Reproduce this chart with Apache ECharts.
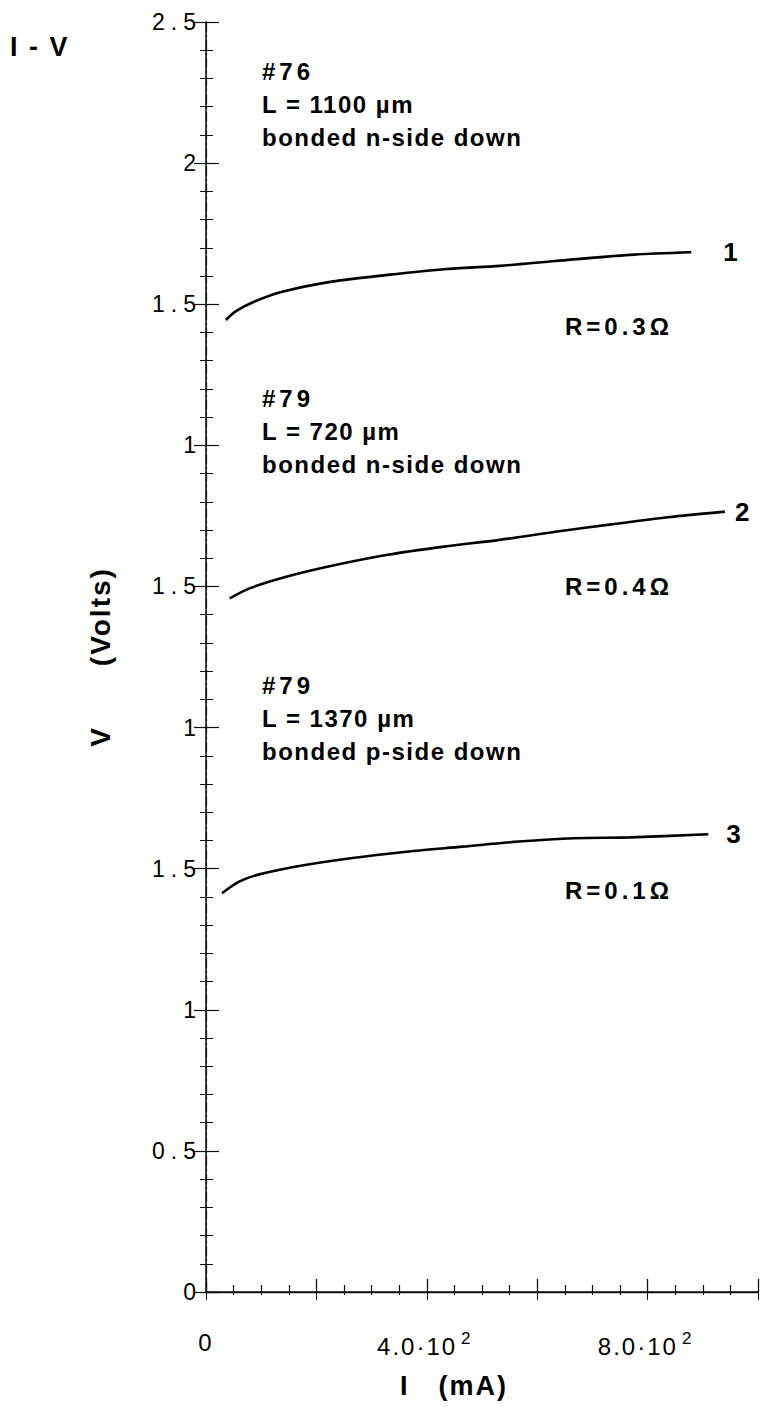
<!DOCTYPE html>
<html>
<head>
<meta charset="utf-8">
<script src="https://cdn.jsdelivr.net/npm/echarts@6/dist/echarts.min.js"></script>
<style>
  html, body { margin: 0; padding: 0; background: #fff; }
  #chart { width: 765px; height: 1407px; }
</style>
</head>
<body>
<div id="chart"></div>
<script>
// Forward I–V curves of three bonded laser diodes (current in mA, voltage in V)
const curve1I = [36, 53, 87, 140, 228, 329, 431, 532, 633, 768, 879];
const curve1V = [1.444, 1.474, 1.509, 1.545, 1.580, 1.604, 1.624, 1.636, 1.653, 1.675, 1.684];

const curve2I = [43, 80, 147, 228, 329, 431, 532, 633, 734, 836, 940];
const curve2V = [1.458, 1.494, 1.535, 1.573, 1.612, 1.641, 1.665, 1.694, 1.720, 1.745, 1.765];

const curve3I = [29, 60, 93, 161, 262, 363, 465, 566, 667, 768, 910];
const curve3V = [1.413, 1.454, 1.478, 1.507, 1.537, 1.560, 1.578, 1.596, 1.608, 1.611, 1.622];

// each curve is shifted up by a whole number of volts so the three traces stack
const curveOffsets = [2, 1, 0];
const curveNames = ['1', '2', '3'];

// labels printed along the stacked voltage axis, bottom to top (every 0.5)
const yTickLabels = ['0', '0.5', '1', '1.5', '1', '1.5', '1', '1.5', '2', '2.5'];

// labelled current ticks and their mantissas (×10²)
const xTickValues = [0, 400, 800];
const xTickText = ['0', '4.0·10', '8.0·10'];

// sample descriptions and series resistances
const sampleNotes = [
  ['#76', 'L = 1100 µm', 'bonded n-side down'],
  ['#79', 'L = 720 µm', 'bonded n-side down'],
  ['#79', 'L = 1370 µm', 'bonded p-side down']
];
const resistances = ['R=0.3Ω', 'R=0.4Ω', 'R=0.1Ω'];

const FONT = '"Liberation Sans", Arial, Helvetica, sans-serif';
const chart = echarts.init(document.getElementById('chart'), null, { renderer: 'svg' });

const toPairs = (I, V, off) => I.map((x, i) => [x, V[i] + off]);
const curves = [
  toPairs(curve1I, curve1V, curveOffsets[0]),
  toPairs(curve2I, curve2V, curveOffsets[1]),
  toPairs(curve3I, curve3V, curveOffsets[2])
];
const endGaps = [32, 10, 18];

const noteTop = [71, 398, 685];
const noteStep = 33;
const rY = [326, 586, 890];

const graphics = [];
graphics.push({
  type: 'text', x: 10, y: 47,
  style: { text: 'I - V', font: 'bold 27px ' + FONT, fill: '#000', verticalAlign: 'middle' }
});
sampleNotes.forEach((lines, k) => {
  lines.forEach((t, j) => {
    graphics.push({
      type: 'text', x: 262, y: noteTop[k] + j * noteStep,
      style: { text: t, font: 'bold 24px ' + FONT, fill: '#000', verticalAlign: 'middle' }
    });
  });
  graphics.push({
    type: 'text', x: 565, y: rY[k],
    style: { text: resistances[k], font: 'bold 24px ' + FONT, fill: '#000', verticalAlign: 'middle' }
  });
});

const axisColor = '#111';
const option = {
  animation: false,
  backgroundColor: '#fff',
  grid: { left: 206, right: 7, top: 22, bottom: 115 },
  xAxis: [
    {
      type: 'value', position: 'bottom', min: 0, max: 1000, interval: 200,
      axisLine: { lineStyle: { color: axisColor, width: 1.5 } },
      axisTick: { inside: true, length: 13, lineStyle: { color: axisColor, width: 1.3 } },
      minorTick: { show: true, splitNumber: 4, length: 7, lineStyle: { color: axisColor, width: 1.2 } },
      splitLine: { show: false },
      axisLabel: {
        margin: 38,
        color: '#000',
        fontFamily: FONT,
        fontSize: 24,
        showMaxLabel: false,
        formatter: v => {
          const k = xTickValues.indexOf(v);
          if (k < 0) return '';
          return k === 0 ? '{b|' + xTickText[k] + '}' : '{b|' + xTickText[k] + '}{s|2}';
        },
        rich: {
          b: { fontSize: 24, fontFamily: FONT, color: '#000' },
          s: { fontSize: 17, fontFamily: FONT, color: '#000', padding: [0, 0, 16, 10] }
        }
      },
      name: 'I\u2003(mA)',
      nameLocation: 'middle',
      nameGap: 80,
      nameTextStyle: { fontFamily: FONT, fontSize: 27, fontWeight: 'bold', color: '#000', padding: [0, 56, 0, 0] }
    },
    {
      type: 'value', position: 'top', min: 0, max: 1000, interval: 200,
      axisLine: { lineStyle: { color: axisColor, width: 1.3 } },
      axisTick: { inside: true, length: 8, lineStyle: { color: axisColor, width: 1 } },
      minorTick: { show: true, splitNumber: 4, length: 3, lineStyle: { color: axisColor, width: 1 } },
      splitLine: { show: false },
      axisLabel: { show: false }
    }
  ],
  yAxis: [
    {
      type: 'value', position: 'left', min: 0, max: 4.5, interval: 0.5,
      axisLine: { lineStyle: { color: axisColor, width: 1.2, type: [10, 3, 2, 3] } },
      axisTick: { inside: true, length: 13, lineStyle: { color: axisColor, width: 1.2 } },
      minorTick: { show: true, splitNumber: 5, length: 7, lineStyle: { color: axisColor, width: 1 } },
      splitLine: { show: false },
      axisLabel: {
        margin: 4,
        color: '#000',
        fontFamily: FONT,
        fontSize: 23,
        formatter: v => yTickLabels[Math.round(v / 0.5)] || ''
      },
      name: 'V\u2003\u2003(Volts)',
      nameLocation: 'middle',
      nameGap: 92,
      nameTextStyle: { fontFamily: FONT, fontSize: 28, fontWeight: 'bold', color: '#000' }
    },
    {
      type: 'value', position: 'right', min: 0, max: 4.5, interval: 0.5,
      axisLine: { lineStyle: { color: axisColor, width: 1.5 } },
      axisTick: { inside: true, length: 12, lineStyle: { color: axisColor, width: 1.2 } },
      minorTick: { show: true, splitNumber: 5, length: 6, lineStyle: { color: axisColor, width: 1 } },
      splitLine: { show: false },
      axisLabel: { show: false }
    }
  ],
  series: curves.map((d, k) => ({
    type: 'line',
    name: curveNames[k],
    data: d,
    smooth: 0.3,
    showSymbol: false,
    lineStyle: { color: '#000', width: 2.6 },
    endLabel: {
      show: true,
      formatter: curveNames[k],
      distance: endGaps[k],
      fontFamily: FONT,
      fontSize: 26,
      fontWeight: 'bold',
      color: '#000'
    }
  })),
  graphic: graphics
};
chart.setOption(option);

// widen the tracking of the typeset labels
function track() {
  chart.getDom().querySelectorAll('text').forEach(t => {
    const cs = getComputedStyle(t);
    const size = parseFloat(cs.fontSize);
    const bold = parseInt(cs.fontWeight, 10) >= 600;
    const txt = t.textContent || '';
    let ls = 0;
    if (bold) {
      if (txt.indexOf('R=') === 0 || txt.charAt(0) === '#') ls = 4;
      else if (size >= 27) ls = 2;
      else ls = 1.5;
    } else if (size === 23) ls = 6;
    else if (size === 24) ls = 2;
    t.setAttribute('letter-spacing', ls + 'px');
  });
}
chart.on('finished', track);
track();
</script>
</body>
</html>
